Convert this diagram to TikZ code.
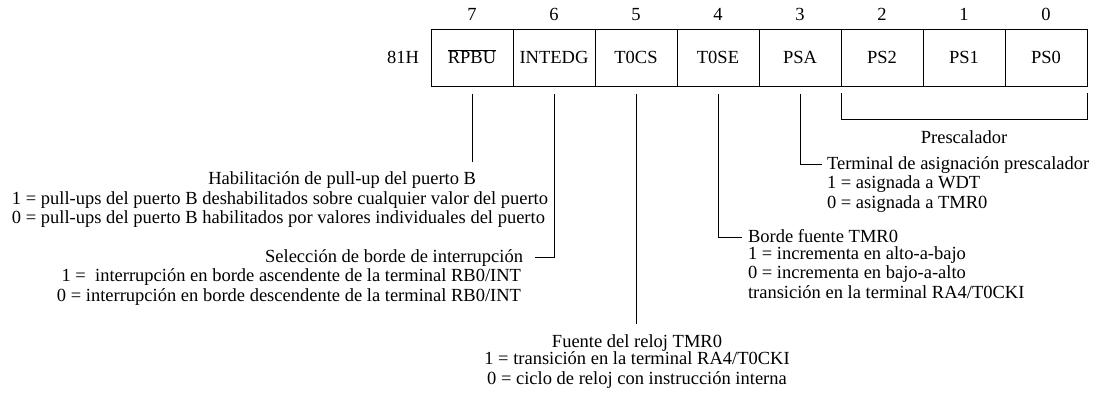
\documentclass[tikz,border=0pt]{standalone}
\usepackage{fontspec}
\setmainfont{Liberation Serif}
\usetikzlibrary{positioning}
\usetikzlibrary{calc}

\begin{document}
\begin{tikzpicture}[x=1pt, y=-1pt, line width=0.8pt,
    every node/.style={inner sep=0pt, outer sep=0pt, font=\fontsize{18.5pt}{19.5pt}\selectfont},
    cell/.style={draw, line width=0.9pt, minimum width=82pt, minimum height=57pt, text height=12pt, text depth=0pt}]
  \useasboundingbox (0, 0) rectangle (1099, 396);

  \foreach \b/\txt [count=\i from 0] in {7/{$\overline{\mbox{RPBU}}$}, 6/INTEDG, 5/T0CS, 4/T0SE, 3/PSA, 2/PS2, 1/PS1, 0/PS0} {
    \node[cell] (c\b) at (472+82*\i, 57.5) {\txt};
    \node[above=8pt of c\b] (n\b) {\b};
  }
  \node[left=12pt of c7] (addr) {81H};

  \draw ([yshift=-7pt]c2.south west) -- ++(0, 26) -| ([yshift=-7pt]c0.south east);
  \node[anchor=base] (presc) at (964, 143) {Prescalador};

  \node[anchor=base east] (t7) at (476, 184) {Habilitación de pull-up del puerto B};
  \node[anchor=base west, align=left] (v7) at (12, 223.5) {1 = pull-ups del puerto B deshabilitados sobre cualquier valor del puerto\\0 = pull-ups del puerto B habilitados por valores individuales del puerto};
  \node[anchor=base east] (t6) at (523, 262) {Selección de borde de interrupción};
  \node[anchor=base east, align=right] (v6) at (521, 301) {1 =\ \ interrupción en borde ascendente de la terminal RB0/INT\\0 = interrupción en borde descendente de la terminal RB0/INT};
  \node[anchor=base] (t5) at (637, 347) {Fuente del reloj TMR0};
  \node[anchor=base, align=center] (v5) at (637, 384) {1 = transición en la terminal RA4/T0CKI\\0 = ciclo de reloj con instrucción interna};
  \node[anchor=base west] (t4) at (748, 242) {Borde fuente TMR0};
  \node[anchor=base west, align=left] (v4) at (748, 298) {1 = incrementa en alto-a-bajo\\0 = incrementa en bajo-a-alto\\transición en la terminal RA4/T0CKI};
  \node[anchor=base west] (t3) at (827, 169) {Terminal de asignación prescalador};
  \node[anchor=base west, align=left] (v3) at (827, 208) {1 = asignada a WDT\\0 = asignada a TMR0};

  \draw ([yshift=-8pt]c7.south) -- ($(c7.south |- t7.north)+(0, -9)$);
  \draw ([yshift=-8pt]c6.south) |- ($(t6.base east)+(12, -5)$);
  \draw ([yshift=-8pt]c5.south) -- ($(c5.south |- t5.north)+(0, -10)$);
  \draw ([yshift=-8pt]c4.south) |- ($(t4.base west)+(-6, -5)$);
  \draw ([yshift=-8pt]c3.south) |- ($(t3.base west)+(-5, -5)$);
\end{tikzpicture}
\end{document}
